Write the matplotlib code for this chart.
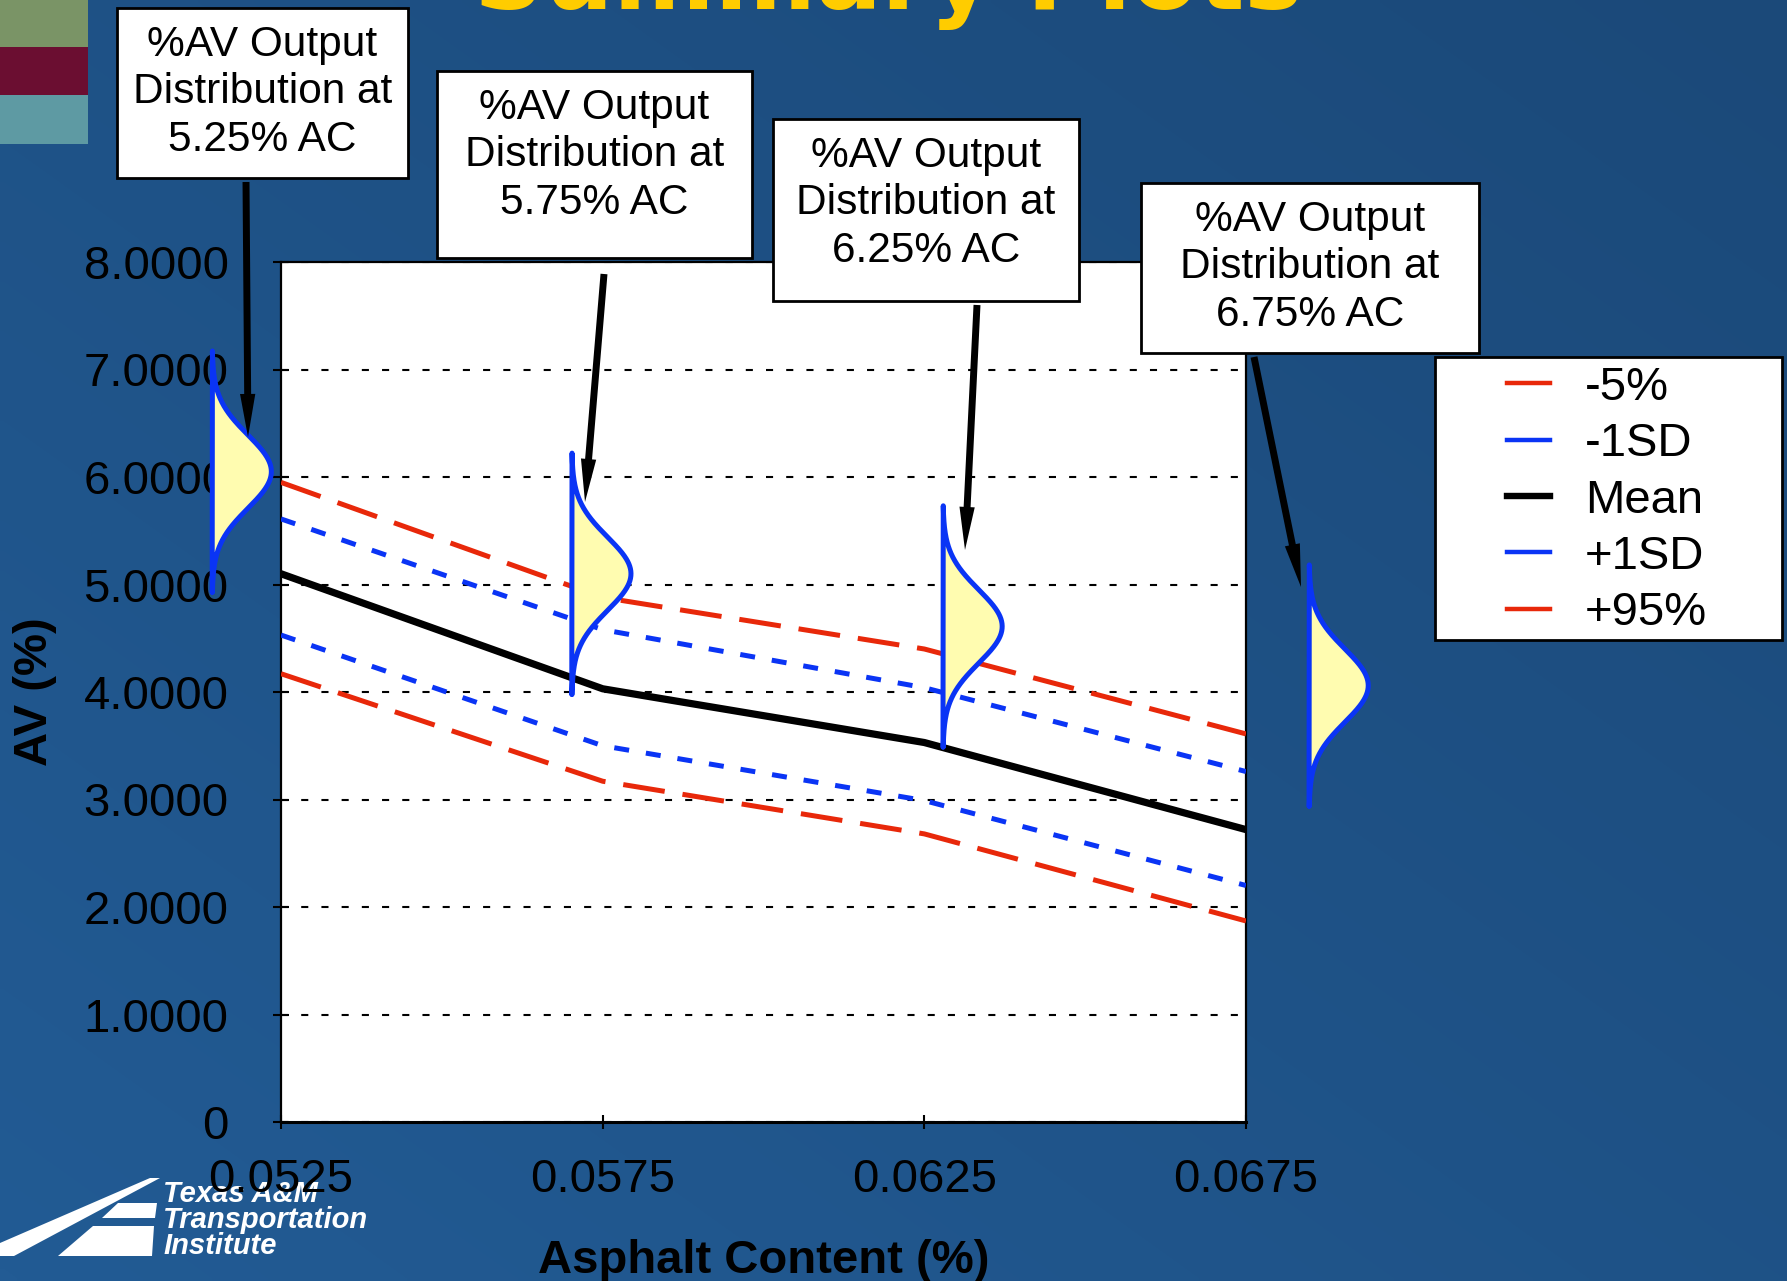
import numpy as np
import matplotlib
matplotlib.use("Agg")
import matplotlib.pyplot as plt
from matplotlib.patches import Rectangle, Polygon, FancyArrowPatch
from matplotlib.lines import Line2D
from matplotlib.colors import LinearSegmentedColormap

plt.rcParams['font.family'] = ['Liberation Sans', 'DejaVu Sans']

# Asphalt content (as a fraction) and the %AV envelopes at each content
ac = [0.0525, 0.0575, 0.0625, 0.0675]
av_minus5 = [5.95, 4.88, 4.40, 3.61]
av_minus1sd = [5.61, 4.58, 4.04, 3.26]
av_mean = [5.10, 4.03, 3.53, 2.72]
av_plus1sd = [4.53, 3.50, 2.99, 2.20]
av_plus95 = [4.17, 3.17, 2.68, 1.87]

# Output %AV distribution at each asphalt content (centre and spread)
dist_mean = [6.05, 5.10, 4.61, 4.06]
dist_sd = [0.34, 0.34, 0.34, 0.34]

series_labels = ['-5%', '-1SD', 'Mean', '+1SD', '+95%']
x_tick_labels = ['0.0525', '0.0575', '0.0625', '0.0675']
y_ticks = [0, 1, 2, 3, 4, 5, 6, 7, 8]
y_tick_labels = ['0', '1.0000', '2.0000', '3.0000', '4.0000',
                 '5.0000', '6.0000', '7.0000', '8.0000']

RED = '#E8280A'
BLUE = '#0A34F5'
YELLOW = '#FFFCB0'

W, H = 1787, 1281
fig = plt.figure(figsize=(W / 100, H / 100), dpi=100)


def fx(px):
    return px / W


def fy(py):
    return 1 - py / H


# slide background: soft diagonal blue gradient
bg = fig.add_axes([0, 0, 1, 1], zorder=-10)
bg.set_axis_off()
gx, gy = np.meshgrid(np.linspace(0, 1, 256), np.linspace(0, 1, 256))
shade = (gx + (1 - gy)) / 2
slide_cmap = LinearSegmentedColormap.from_list('slide', ['#225B94', '#1B4979'])
bg.imshow(shade, cmap=slide_cmap, aspect='auto', extent=[0, 1, 0, 1],
          origin='upper', interpolation='bilinear')
bg.set_xlim(0, 1)
bg.set_ylim(0, 1)

# coloured corner blocks
for y0, y1, c in [(0, 47, '#7A9466'), (47, 95, '#6B0E31'), (95, 144, '#5E9AA3')]:
    fig.add_artist(Rectangle((0, fy(y1)), fx(88), (y1 - y0) / H,
                             transform=fig.transFigure, color=c, lw=0, zorder=-5))

# slide title (runs off the top edge)
fig.text(fx(888), fy(8.5), 'Summary Plots', ha='center', va='baseline',
         fontsize=70, fontweight='bold', color='#FFCC00',
         family=['DejaVu Sans'], zorder=-4)

# institute logo, bottom left
logo_shapes = [
    [(0, 1243), (150, 1178), (160, 1178), (14, 1256), (0, 1256)],
    [(118, 1203), (157, 1203), (155, 1218), (102, 1218)],
    [(93, 1226), (154, 1226), (152, 1256), (58, 1256)],
]
for pts in logo_shapes:
    fig.add_artist(Polygon([(fx(x), fy(y)) for x, y in pts], closed=True,
                           transform=fig.transFigure, fc='white', ec='none',
                           zorder=-3))
for txt, yb in [('Texas A&M', 1202), ('Transportation', 1228), ('Institute', 1254)]:
    fig.text(fx(163), fy(yb), txt, ha='left', va='baseline', fontsize=21,
             fontweight='bold', fontstyle='italic', color='white', zorder=-3)

# main chart
ax = fig.add_axes([fx(281), fy(1122), 965 / W, 860 / H])
ax.set_facecolor('white')

long_dash = (0, (8.4, 3.6))
short_dash = (0, (3.0, 3.4))
ax.plot(ac, av_minus5, color=RED, lw=3.6, linestyle=long_dash, zorder=3)
ax.plot(ac, av_minus1sd, color=BLUE, lw=3.6, linestyle=short_dash, zorder=3)
ax.plot(ac, av_plus1sd, color=BLUE, lw=3.6, linestyle=short_dash, zorder=3)
ax.plot(ac, av_plus95, color=RED, lw=3.6, linestyle=long_dash, zorder=3)
ax.plot(ac, av_mean, color='black', lw=5.2, solid_joinstyle='round', zorder=4)

ax.set_xlim(ac[0], ac[-1])
ax.set_ylim(0, 8)
ax.set_xticks(ac)
ax.set_xticklabels(x_tick_labels)
ax.set_yticks(y_ticks)
ax.set_yticklabels(y_tick_labels)
ax.tick_params(axis='y', direction='inout', length=11.5, width=1.5, pad=32,
               labelsize=34, colors='black')
ax.tick_params(axis='x', direction='inout', length=9.4, width=1.5, pad=21,
               labelsize=34, colors='black')
ax.yaxis.grid(True, color='black', lw=1.5, linestyle=(0, (3.4, 6.3)))
ax.xaxis.grid(False)
for side in ['left', 'right', 'top']:
    ax.spines[side].set_color('black')
    ax.spines[side].set_linewidth(1.6)
ax.spines['bottom'].set_color('black')
ax.spines['bottom'].set_linewidth(2.2)

ax.set_xlabel('Asphalt Content (%)', fontsize=34, fontweight='bold')
ax.xaxis.set_label_coords(0.5, -(1273 - 1122) / 860)
ax.xaxis.label.set_va('baseline')
ax.set_ylabel('AV (%)', fontsize=34, fontweight='bold')
ax.yaxis.set_label_coords((35 - 281) / 965, 0.5)
ax.yaxis.label.set_va('center')

# output distributions drawn beside each asphalt content
curve_offset = [-0.00107, -0.00048, 0.00029, 0.00098]
curve_width = 0.00092
for a, off, mu, sd in zip(ac, curve_offset, dist_mean, dist_sd):
    x0 = a + off
    yy = np.linspace(mu - 3.3 * sd, mu + 3.3 * sd, 400)
    xx = x0 + curve_width * np.exp(-0.5 * ((yy - mu) / sd) ** 2)
    ax.fill_betweenx(yy, x0, xx, color=YELLOW, lw=0, clip_on=False, zorder=10)
    ax.plot(np.r_[xx, x0], np.r_[yy, yy[0]], color=BLUE, lw=3.6,
            solid_joinstyle='round', solid_capstyle='round',
            clip_on=False, zorder=11)

# callout boxes with arrows pointing at each distribution
boxes = [(117, 8, 408, 178), (437, 71, 752, 258),
         (773, 119, 1079, 301), (1141, 183, 1479, 353)]
arrows = [((246, 182), (248, 437)), ((604, 274), (585, 502)),
          ((977, 305), (965, 550)), ((1254, 357), (1301, 587))]
for (bx0, by0, bx1, by1), a in zip(boxes, ac):
    fig.add_artist(Rectangle((fx(bx0), fy(by1)), (bx1 - bx0) / W, (by1 - by0) / H,
                             transform=fig.transFigure, fc='white', ec='black',
                             lw=2, zorder=5))
    # va='baseline' anchors the last line's baseline
    fig.text(fx((bx0 + bx1) / 2), fy(by0 + 143),
             f"%AV Output\nDistribution at\n{a * 100:.2f}% AC",
             ha='center', va='baseline', fontsize=30.5, linespacing=1.245,
             color='black', zorder=6)
for (ax0, ay0), (ax1, ay1) in arrows:
    fig.add_artist(FancyArrowPatch((fx(ax0), fy(ay0)), (fx(ax1), fy(ay1)),
                                   transform=fig.transFigure,
                                   arrowstyle='simple,head_length=31,head_width=11,tail_width=5',
                                   mutation_scale=1, lw=0, color='black',
                                   shrinkA=0, shrinkB=0, zorder=7))

# legend in its own framed panel
fig.add_artist(Rectangle((fx(1435), fy(640)), (1782 - 1435) / W, (640 - 357) / H,
                         transform=fig.transFigure, fc='white', ec='black',
                         lw=2, zorder=4))
handles = [Line2D([], [], color=RED, lw=3.2),
           Line2D([], [], color=BLUE, lw=3.2),
           Line2D([], [], color='black', lw=4.6),
           Line2D([], [], color=BLUE, lw=3.2),
           Line2D([], [], color=RED, lw=3.2)]
fig.legend(handles, series_labels, loc='upper left',
           bbox_to_anchor=(fx(1507), fy(366)), bbox_transform=fig.transFigure,
           frameon=False, fontsize=34, handlelength=0.9, handletextpad=0.75,
           labelspacing=0.26, borderpad=0, borderaxespad=0)

fig.savefig('out.png', dpi=100)
